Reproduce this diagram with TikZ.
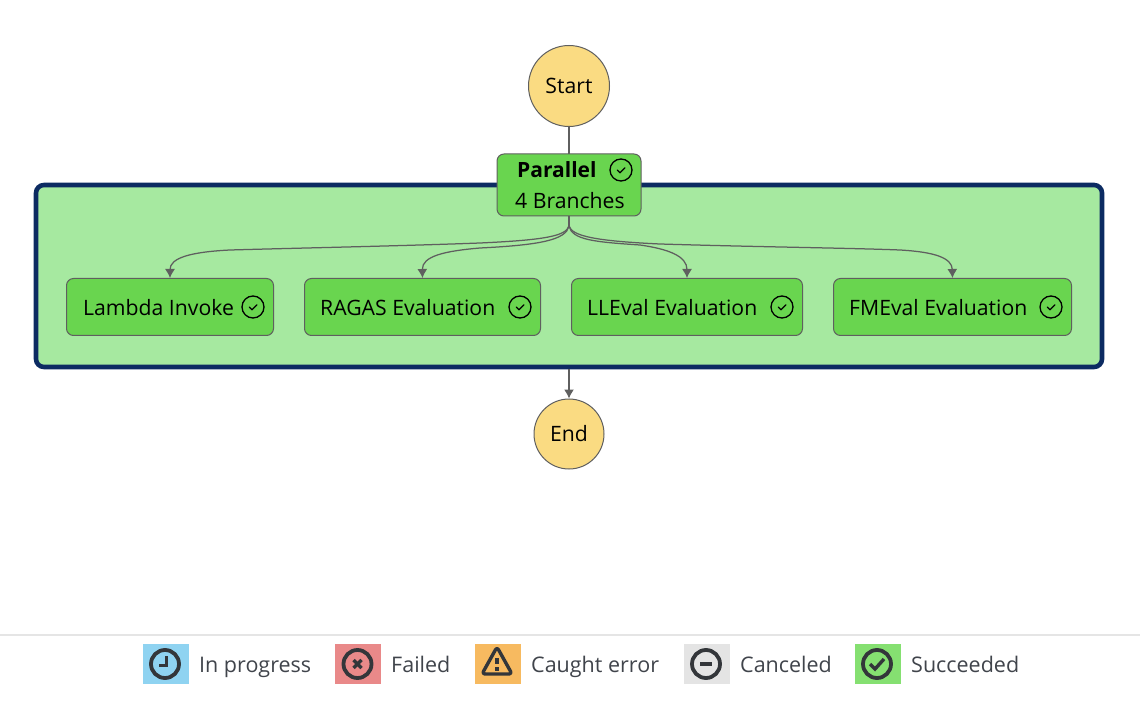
\documentclass[tikz,border=0pt]{standalone}
\usepackage{fontspec}
\setmainfont{Open Sans}
\usetikzlibrary{arrows.meta}
\definecolor{nodegreen}{HTML}{69D54F}
\definecolor{mapgreen}{HTML}{A6E9A0}
\definecolor{mapborder}{HTML}{0C2B62}
\definecolor{startyellow}{HTML}{FADB82}
\definecolor{edgegray}{HTML}{5F5F5F}
\definecolor{iconcol}{HTML}{33363A}
\definecolor{legendtext}{HTML}{40444B}
\tikzset{
  x=1pt,y=-1pt,
  statebox/.style={draw=edgegray,line width=1pt,fill=nodegreen,rounded corners=7pt,inner sep=0,anchor=north west},
  terminal/.style={circle,draw=edgegray,line width=1pt,fill=startyellow,inner sep=0,font=\fontsize{21.2}{24}\selectfont},
  nodetext/.style={inner sep=0,anchor=base west,font=\fontsize{21.2}{24}\selectfont},
  legendtextstyle/.style={inner sep=0,anchor=base west,text=legendtext,font=\fontsize{21.5}{24}\selectfont},
  conn/.style={draw=edgegray,line width=1.25pt},
  arr/.style={conn,-{Latex[length=9pt,width=10pt]}},
  swatch/.style={inner sep=0,minimum width=46pt,minimum height=40pt,anchor=center},
  iconring/.style={draw=iconcol,line width=3.8pt,circle,inner sep=0,minimum size=28pt},
  smallring/.style={draw=black,line width=1.3pt,circle,inner sep=0,minimum size=22pt},
}
\newcommand{\smallcheck}[2]{%
  \node[smallring] (#1) at (#2) {};
  \draw[black,line width=1.3pt,line cap=round,line join=round] ([shift={(-3.6,0.2)}]#1.center) -- ++(2.6,2.6) -- ++(5,-5);
}
\begin{document}
\begin{tikzpicture}
\useasboundingbox (0,0) rectangle (1140,708);
% map state
\draw[draw=mapborder,line width=4.6pt,fill=mapgreen,rounded corners=8pt] (36,185) rectangle (1102,367);
% terminals
\node[terminal,minimum size=81pt] (start) at (569,86) {\raisebox{-1pt}{Start}};
\node[terminal,minimum size=70pt] (end) at (569,434) {\raisebox{-1pt}{End}};
% parallel
\draw[statebox] (497,154) rectangle (641,216);
\coordinate (partop) at (569,154);
\coordinate (parbot) at (569,216);
\coordinate (fork) at (569,226);
\coordinate (mapbot) at (569,369);
\node[nodetext,font=\fontsize{21}{24}\selectfont\bfseries] (partitle) at (517,178) {Parallel};
\node[nodetext] (parsub) at (515,209) {4 Branches};
\smallcheck{parchk}{621,170}
% states
\node[statebox,minimum width=207pt,minimum height=57pt] (lambda) at (66,278) {};
\node[statebox,minimum width=236pt,minimum height=57pt] (ragas) at (304,278) {};
\node[statebox,minimum width=231pt,minimum height=57pt] (lleval) at (571,278) {};
\node[statebox,minimum width=238pt,minimum height=57pt] (fmeval) at (833,278) {};
\node[nodetext] (lambdat) at (83,316) {Lambda Invoke};
\node[nodetext] (ragast) at (320,316) {RAGAS Evaluation};
\node[nodetext] (llevalt) at (587,316) {LLEval Evaluation};
\node[nodetext] (fmevalt) at (849,316) {FMEval Evaluation};
\smallcheck{lchk}{253,307}
\smallcheck{rchk}{520,307}
\smallcheck{llchk}{782,307}
\smallcheck{fchk}{1051,307}
% connectors
\draw[conn] (start.south) -- (partop);
\draw[conn] (parbot) -- (fork);
\draw[arr] (fork) .. controls (566,236) and (545,240) .. (480,243) .. controls (400,246) and (300,248) .. (230,250) .. controls (190,252) and (170,258) .. (lambda.north);
\draw[arr] (fork) .. controls (566,240) and (540,245) .. (480,248) .. controls (445,251) and (422,256) .. (ragas.north);
\draw[arr] (fork) .. controls (572,240) and (595,242) .. (640,245) .. controls (668,249) and (687,256) .. (lleval.north);
\draw[arr] (fork) .. controls (572,236) and (595,241) .. (660,244) .. controls (760,247) and (850,248) .. (900,250) .. controls (935,252) and (952,258) .. (fmeval.north);
\draw[arr] (mapbot) -- (end.north);
% legend
\coordinate (sepl) at (0,635);
\coordinate (sepr) at (1140,635);
\draw[draw=black!10,line width=1.6pt] (sepl) -- (sepr);
\node[swatch,fill={rgb,255:red,143;green,211;blue,241}] (s1) at (166,664) {};
\node[swatch,fill={rgb,255:red,233;green,137;blue,137}] (s2) at (358,664) {};
\node[swatch,fill={rgb,255:red,247;green,186;blue,96}] (s3) at (498,664) {};
\node[swatch,fill={rgb,255:red,228;green,228;blue,228}] (s4) at (707,664) {};
\node[swatch,fill={rgb,255:red,133;green,224;blue,113}] (s5) at (878,664) {};
\node[iconring] (i1) at (165,664) {};
\draw[iconcol,line width=3.2pt] ([shift={(1.5,-8)}]i1.center) -- ([shift={(1.5,1.5)}]i1.center) -- ([shift={(-6,1.5)}]i1.center);
\node[iconring] (i2) at (357.5,664) {};
\draw[iconcol,line width=3.4pt] ([shift={(-4,-4)}]i2.center) -- ([shift={(4,4)}]i2.center);
\draw[iconcol,line width=3.4pt] ([shift={(4,-4)}]i2.center) -- ([shift={(-4,4)}]i2.center);
\coordinate (i3) at (497,664);
\draw[iconcol,line width=3.4pt,line join=round,rounded corners=3pt] ([shift={(0,-17)}]i3) -- ([shift={(15,10)}]i3) -- ([shift={(-15,10)}]i3) -- cycle;
\fill[iconcol] ([shift={(-2,-6)}]i3) rectangle ([shift={(2,0)}]i3);
\fill[iconcol] ([shift={(-2,3)}]i3) rectangle ([shift={(2,7)}]i3);
\node[iconring] (i4) at (706,664) {};
\draw[iconcol,line width=3.4pt] ([shift={(-6,0)}]i4.center) -- ([shift={(6,0)}]i4.center);
\node[iconring] (i5) at (877,664) {};
\draw[iconcol,line width=3.4pt,line join=miter] ([shift={(-7,0)}]i5.center) -- ([shift={(-2,5)}]i5.center) -- ([shift={(7,-5)}]i5.center);
\node[legendtextstyle] (t1) at (199,672) {In progress};
\node[legendtextstyle] (t2) at (391,672) {Failed};
\node[legendtextstyle] (t3) at (531,672) {Caught error};
\node[legendtextstyle] (t4) at (740,672) {Canceled};
\node[legendtextstyle] (t5) at (911,672) {Succeeded};
\end{tikzpicture}
\end{document}
